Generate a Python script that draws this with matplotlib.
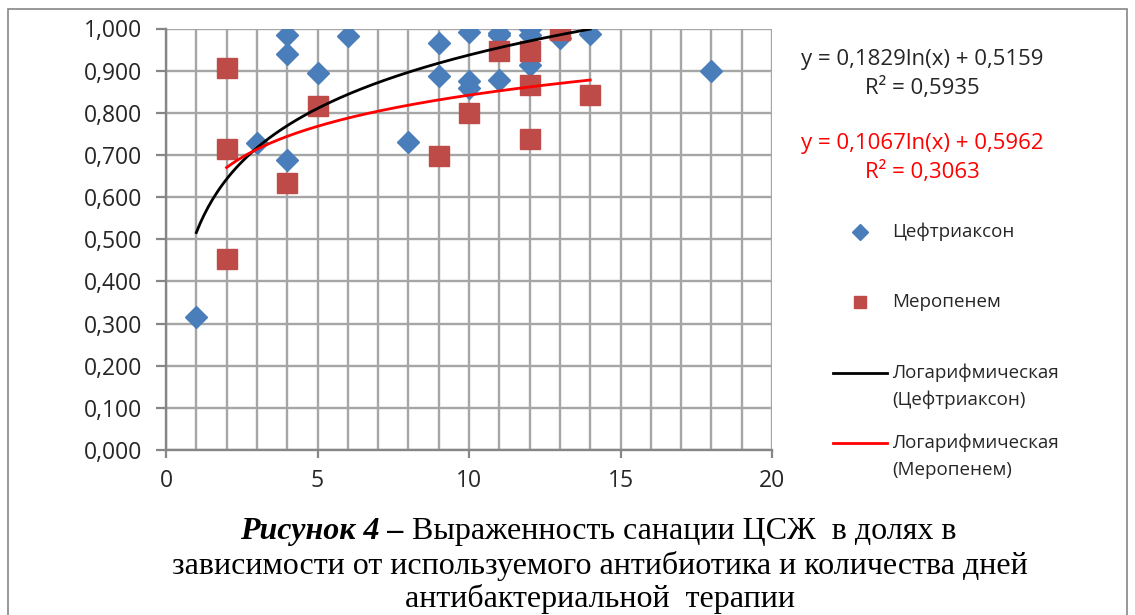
import numpy as np
import matplotlib.pyplot as plt
from matplotlib.ticker import MultipleLocator, FuncFormatter
from matplotlib.lines import Line2D
from matplotlib.patches import Rectangle

plt.rcParams['font.family'] = ['Open Sans', 'DejaVu Sans']

W, H = 1135, 615

# Цефтриаксон: дни терапии / доля санации
cef_days = [1, 3, 4, 4, 4, 5, 6, 8, 9, 9, 10, 10, 10, 11, 11, 11, 12, 12, 12, 13, 14, 18]
cef_vals = [0.316, 0.728, 0.985, 0.939, 0.688, 0.894, 0.982, 0.730, 0.965, 0.887,
            0.992, 0.875, 0.860, 0.990, 0.985, 0.878, 0.998, 0.985, 0.913, 0.978,
            0.986, 0.898]

# Меропенем
mer_days = [2, 2, 2, 4, 5, 9, 10, 11, 12, 12, 12, 13, 14]
mer_vals = [0.906, 0.713, 0.452, 0.633, 0.817, 0.698, 0.800, 0.947, 0.947, 0.866,
            0.737, 0.996, 0.842]

# logarithmic trendlines as shown on the chart: a*ln(x) + b
cef_a, cef_b, cef_r2 = 0.1829, 0.5159, 0.5935
mer_a, mer_b, mer_r2 = 0.1067, 0.5962, 0.3063
cef_range = (1, 14)
mer_range = (2, 14)

blue = '#4a7ebb'
red = '#be4b48'
grid = '#a6a6a6'
axis_gray = '#868686'
txt = '#262626'


def fx(px):
    return px / W


def fy(py):
    return 1 - py / H


def comma(v, dec):
    return f"{v:.{dec}f}".replace('.', ',')


fig = plt.figure(figsize=(W / 100, H / 100), dpi=100)
ax = fig.add_axes([fx(166), fy(450), fx(772) - fx(166), fy(28.5) - fy(450)])

# trendlines
xc = np.linspace(*cef_range, 200)
ax.plot(xc, cef_a * np.log(xc) + cef_b, color='black', lw=2, zorder=4)
xm = np.linspace(*mer_range, 200)
ax.plot(xm, mer_a * np.log(xm) + mer_b, color='red', lw=2, zorder=4)

# points
ax.plot(cef_days, cef_vals, 'D', color=blue, ms=11.5, mec=blue, zorder=3)
ax.plot(mer_days, mer_vals, 's', color=red, ms=15, mec=red, zorder=3)

ax.set_xlim(0, 20)
ax.set_ylim(0, 1)
ax.xaxis.set_major_locator(MultipleLocator(5))
ax.xaxis.set_minor_locator(MultipleLocator(1))
ax.yaxis.set_major_locator(MultipleLocator(0.1))
ax.yaxis.set_major_formatter(FuncFormatter(lambda v, p: comma(v, 3)))
ax.grid(which='both', color=grid, lw=1.7, zorder=0)
ax.set_axisbelow(True)

for s in ['top', 'right']:
    ax.spines[s].set_visible(False)
for s in ['left', 'bottom']:
    ax.spines[s].set_color(axis_gray)
    ax.spines[s].set_linewidth(1.7)

ax.tick_params(axis='y', length=7, width=1.6, color=axis_gray, labelsize=16.5,
               pad=10, labelcolor=txt)
ax.tick_params(axis='x', which='major', length=6, width=1.6, color=axis_gray,
               labelsize=16.5, pad=8, labelcolor=txt)
ax.tick_params(axis='x', which='minor', length=0)

# trendline equations
eq_size = 16
fig.text(fx(922), fy(60), f"y = {comma(cef_a, 4)}ln(x) + {comma(cef_b, 4)}",
         ha='center', va='center', fontsize=eq_size, color=txt)
fig.text(fx(922), fy(88), f"R² = {comma(cef_r2, 4)}",
         ha='center', va='center', fontsize=eq_size, color=txt)
fig.text(fx(922), fy(143), f"y = {comma(mer_a, 4)}ln(x) + {comma(mer_b, 4)}",
         ha='center', va='center', fontsize=eq_size, color='red')
fig.text(fx(922), fy(172), f"R² = {comma(mer_r2, 4)}",
         ha='center', va='center', fontsize=eq_size, color='red')

# legend
lg = 13.5
fig.add_artist(Line2D([fx(860)], [fy(232)], marker='D', ms=8, color=blue, ls='none'))
fig.text(fx(892), fy(232), "Цефтриаксон", ha='left', va='center', fontsize=lg, color=txt)
fig.add_artist(Line2D([fx(860)], [fy(302)], marker='s', ms=9, color=red, ls='none'))
fig.text(fx(892), fy(302), "Меропенем", ha='left', va='center', fontsize=lg, color=txt)
fig.add_artist(Line2D([fx(833), fx(887)], [fy(373), fy(373)], color='black', lw=2))
fig.text(fx(892), fy(373), "Логарифмическая", ha='left', va='center', fontsize=lg, color=txt)
fig.text(fx(892), fy(400), "(Цефтриаксон)", ha='left', va='center', fontsize=lg, color=txt)
fig.add_artist(Line2D([fx(833), fx(887)], [fy(443), fy(443)], color='red', lw=2))
fig.text(fx(892), fy(443), "Логарифмическая", ha='left', va='center', fontsize=lg, color=txt)
fig.text(fx(892), fy(470), "(Меропенем)", ha='left', va='center', fontsize=lg, color=txt)

# chart border
fig.add_artist(Rectangle((fx(8), fy(640)), fx(1127) - fx(8), fy(9) - fy(640),
                         transform=fig.transFigure, fill=False, ec=axis_gray, lw=1.2))

# caption
serif = ['Liberation Serif', 'DejaVu Serif']
cap_size = 23
renderer = fig.canvas.get_renderer()
b = fig.text(0, fy(532), "Рисунок 4 –", family=serif, fontsize=cap_size,
             weight='bold', style='italic', va='center', ha='left')
r = fig.text(0, fy(532), " Выраженность санации ЦСЖ  в долях в", family=serif,
             fontsize=cap_size, va='center', ha='left')
wb = b.get_window_extent(renderer).width
wr = r.get_window_extent(renderer).width
x0 = 598 - (wb + wr) / 2
b.set_x(fx(x0))
r.set_x(fx(x0 + wb))
fig.text(fx(600), fy(566), "зависимости от используемого антибиотика и количества дней",
         family=serif, fontsize=cap_size, ha='center', va='center')
fig.text(fx(600), fy(599), "антибактериальной  терапии",
         family=serif, fontsize=cap_size, ha='center', va='center')

fig.savefig('out.png', dpi=100)
